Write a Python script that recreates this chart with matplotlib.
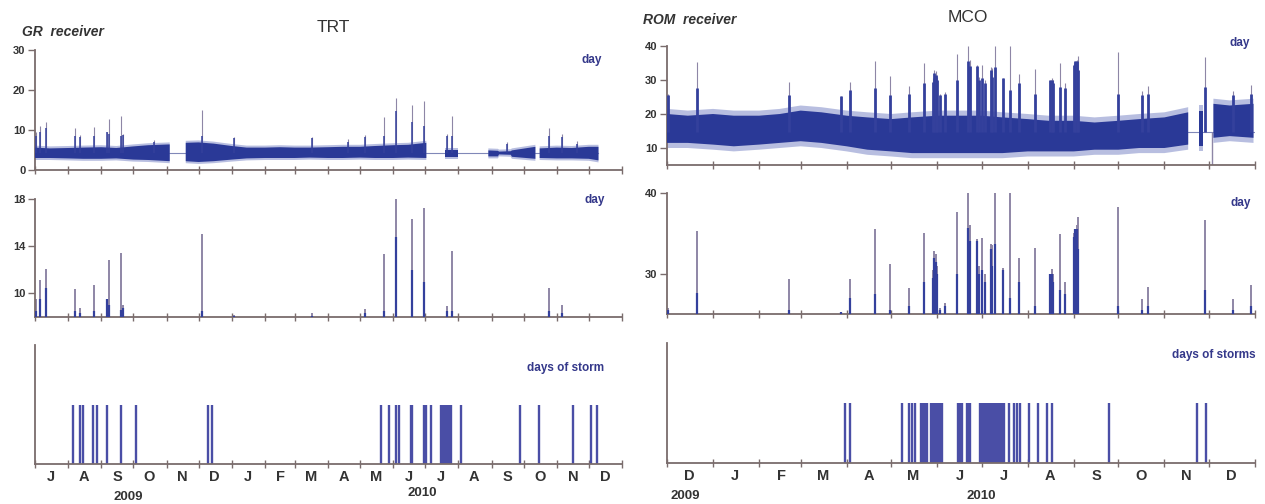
import numpy as np
import pandas as pd
import matplotlib
matplotlib.use("Agg")
import matplotlib.pyplot as plt
import matplotlib.dates as mdates
from matplotlib.ticker import FuncFormatter, NullFormatter

plt.rcParams['font.family'] = ['Liberation Sans', 'DejaVu Sans']

# ---------------- TRT (GR receiver) ----------------
trt_band_dates = ['2009-07-01', '2009-07-15', '2009-08-01', '2009-08-15', '2009-09-01',
                  '2009-09-15', '2009-10-01', '2009-10-15', '2009-11-04', '2009-11-05',
                  '2009-11-18', '2009-11-19', '2009-12-01', '2009-12-15', '2010-01-01',
                  '2010-01-15', '2010-02-01', '2010-02-15', '2010-03-01', '2010-03-15',
                  '2010-04-01', '2010-04-15', '2010-05-01', '2010-05-15', '2010-06-01',
                  '2010-06-15', '2010-07-02', '2010-07-03', '2010-07-18', '2010-07-19',
                  '2010-08-01', '2010-08-02', '2010-08-28', '2010-08-29', '2010-09-07',
                  '2010-09-08', '2010-09-19', '2010-09-20', '2010-10-12', '2010-10-13',
                  '2010-10-15', '2010-10-16', '2010-11-01', '2010-11-15', '2010-12-01',
                  '2010-12-10']
trt_band_lo = [3.0, 3.0, 2.9, 2.8, 2.8, 2.9, 2.6, 2.5, 2.2, np.nan,
               np.nan, 2.2, 2.0, 2.2, 2.6, 2.9, 3.0, 3.0, 3.0, 3.1,
               3.0, 3.0, 3.1, 3.0, 3.0, 3.1, 3.0, np.nan, np.nan, 3.3,
               3.3, np.nan, np.nan, 3.4, 3.4, 3.9, 3.8, 3.3, 2.8, np.nan,
               np.nan, 3.0, 2.9, 2.9, 2.8, 2.4]
trt_band_hi = [5.6, 5.4, 5.5, 5.6, 5.7, 5.5, 5.9, 6.2, 6.4, np.nan,
               np.nan, 6.8, 6.9, 6.6, 6.0, 5.6, 5.6, 5.7, 5.6, 5.6,
               5.7, 5.8, 5.8, 6.0, 6.2, 6.3, 6.8, np.nan, np.nan, 5.0,
               5.0, np.nan, np.nan, 4.9, 4.8, 4.6, 4.7, 4.9, 5.8, np.nan,
               np.nan, 5.4, 5.6, 5.5, 5.8, 5.8]
trt_gap_level = 4.3

trt_peak_dates = ['2009-07-02', '2009-07-06', '2009-07-11', '2009-08-07', '2009-08-12',
                  '2009-08-25', '2009-09-06', '2009-09-08', '2009-09-19', '2009-09-21',
                  '2009-12-04', '2010-01-03', '2010-03-17', '2010-05-06', '2010-05-23',
                  '2010-06-04', '2010-06-19', '2010-06-30', '2010-07-21', '2010-07-26',
                  '2010-10-25', '2010-11-06', '2009-10-20', '2010-04-20', '2010-09-15',
                  '2010-11-20']
trt_peak_max = [9.5, 11.1, 12.1, 10.4, 8.8, 10.7, 9.5, 12.8, 13.4, 9.0,
                15.0, 8.2, 8.3, 8.7, 13.3, 18.0, 16.3, 17.2, 8.9, 13.6,
                10.5, 9.0, 7.5, 7.8, 7.0, 7.2]
trt_peak_core = [8.5, 9.5, 10.5, 8.5, 8.3, 8.5, 9.5, 9.0, 8.6, 8.8,
                 8.5, 8.1, 8.1, 8.3, 8.5, 14.8, 12.0, 11.0, 8.5, 8.5,
                 8.5, 8.3, 7.0, 7.0, 6.5, 6.5]

trt_storms = [('2009-08-06', '2009-08-06'), ('2009-08-12', '2009-08-12'), ('2009-08-15', '2009-08-15'),
              ('2009-08-24', '2009-08-24'), ('2009-08-28', '2009-08-28'), ('2009-09-06', '2009-09-06'),
              ('2009-09-19', '2009-09-19'), ('2009-10-03', '2009-10-03'), ('2009-12-10', '2009-12-10'),
              ('2009-12-14', '2009-12-14'), ('2010-05-21', '2010-05-21'), ('2010-05-28', '2010-05-28'),
              ('2010-06-04', '2010-06-04'), ('2010-06-06', '2010-06-06'), ('2010-06-18', '2010-06-19'),
              ('2010-06-30', '2010-06-30'), ('2010-07-02', '2010-07-02'), ('2010-07-06', '2010-07-06'),
              ('2010-07-16', '2010-07-25'), ('2010-08-03', '2010-08-03'), ('2010-09-28', '2010-09-28'),
              ('2010-10-15', '2010-10-15'), ('2010-11-16', '2010-11-16'), ('2010-12-03', '2010-12-03'),
              ('2010-12-09', '2010-12-09')]

# ---------------- MCO (ROM receiver) ----------------
mco_band_dates = ['2009-12-01', '2009-12-15', '2010-01-01', '2010-01-15', '2010-02-01',
                  '2010-02-15', '2010-03-01', '2010-03-15', '2010-04-01', '2010-04-15',
                  '2010-05-01', '2010-05-15', '2010-06-01', '2010-06-15', '2010-07-01',
                  '2010-07-15', '2010-08-01', '2010-08-15', '2010-09-01', '2010-09-15',
                  '2010-10-01', '2010-10-15', '2010-11-01', '2010-11-17', '2010-11-18',
                  '2010-11-23', '2010-11-24', '2010-11-27', '2010-11-28', '2010-12-03',
                  '2010-12-04', '2010-12-15', '2010-12-31']
mco_band_lo = [11.5, 11.5, 11.0, 10.5, 11.0, 11.5, 12.0, 11.5, 10.5, 9.5,
               9.0, 8.5, 8.5, 8.5, 8.5, 8.5, 9.0, 9.0, 9.0, 9.5,
               9.5, 10.0, 10.0, 11.0, np.nan, np.nan, 10.5, 10.5, np.nan, np.nan,
               13.0, 13.5, 13.0]
mco_band_hi = [20.0, 19.5, 20.0, 19.5, 19.5, 20.0, 21.0, 20.5, 19.5, 19.0,
               18.5, 19.0, 19.5, 19.5, 19.5, 19.0, 18.5, 18.0, 18.0, 17.5,
               18.0, 18.5, 19.0, 20.5, np.nan, np.nan, 21.0, 21.0, np.nan, np.nan,
               23.0, 22.5, 23.0]
mco_gap_level = 14.8
mco_dropout_date = '2010-12-03'

mco_peak_dates = ['2009-12-02', '2009-12-21', '2010-02-21', '2010-03-28', '2010-04-03',
                  '2010-04-20', '2010-04-30', '2010-05-13', '2010-05-23', '2010-05-29',
                  '2010-05-30', '2010-05-31', '2010-06-01', '2010-06-03', '2010-06-06',
                  '2010-06-14', '2010-06-22', '2010-06-23', '2010-06-28', '2010-06-29',
                  '2010-07-01', '2010-07-03', '2010-07-07', '2010-07-08', '2010-07-10',
                  '2010-07-15', '2010-07-20', '2010-07-26', '2010-08-06', '2010-08-16',
                  '2010-08-17', '2010-08-18', '2010-08-23', '2010-08-26', '2010-09-01',
                  '2010-09-02', '2010-09-03', '2010-09-04', '2010-10-01', '2010-10-17',
                  '2010-10-21', '2010-11-28', '2010-12-17', '2010-12-29']
mco_peak_max = [25.8, 35.3, 29.3, 25.3, 29.4, 35.5, 31.2, 28.2, 35.1, 30.5,
                32.8, 32.5, 31.0, 25.8, 26.4, 37.6, 40.0, 36.0, 34.3, 31.0,
                34.4, 30.0, 33.7, 33.5, 40.0, 30.7, 40.0, 31.9, 33.2, 30.0,
                30.6, 30.0, 34.9, 29.0, 35.0, 35.5, 36.0, 37.0, 38.3, 26.8,
                28.3, 36.7, 26.9, 28.6]
mco_peak_core = [25.5, 27.6, 25.5, 25.2, 27.0, 27.5, 25.5, 26.0, 29.0, 29.5,
                 32.0, 31.5, 30.0, 25.5, 26.0, 30.0, 35.7, 34.0, 34.0, 30.0,
                 30.5, 29.0, 33.0, 31.0, 33.7, 30.5, 27.0, 29.0, 26.0, 30.0,
                 30.0, 29.0, 28.0, 27.5, 34.5, 35.5, 35.5, 33.0, 26.0, 25.5,
                 26.0, 28.0, 25.5, 26.0]

mco_storms = [('2010-03-31', '2010-03-31'), ('2010-04-03', '2010-04-03'), ('2010-05-08', '2010-05-08'),
              ('2010-05-13', '2010-05-13'), ('2010-05-15', '2010-05-15'), ('2010-05-17', '2010-05-17'),
              ('2010-05-21', '2010-05-25'), ('2010-05-28', '2010-06-04'), ('2010-06-15', '2010-06-18'),
              ('2010-06-21', '2010-06-23'), ('2010-06-30', '2010-07-16'), ('2010-07-19', '2010-07-19'),
              ('2010-07-23', '2010-07-23'), ('2010-07-25', '2010-07-25'), ('2010-07-27', '2010-07-27'),
              ('2010-08-02', '2010-08-02'), ('2010-08-08', '2010-08-08'), ('2010-08-14', '2010-08-14'),
              ('2010-08-17', '2010-08-17'), ('2010-09-25', '2010-09-25'), ('2010-11-23', '2010-11-23'),
              ('2010-11-29', '2010-11-29')]

W, H = 1265, 504
BAND = '#2a3997'
HALO = '#7f8ac8'
SPIKE = '#8e86a6'
CORE = '#34409c'
STORM = '#4a4ea6'
AXC = '#7a6c6c'
TXT = '#333333'
LABC = '#34388a'

fig = plt.figure(figsize=(W / 100, H / 100), dpi=100)


def add_axes(x0, y0, x1, y1):
    # pixel box (left, top, right, bottom) -> axes
    return fig.add_axes([x0 / W, 1 - y1 / H, (x1 - x0) / W, (y1 - y0) / H])


def ftext(x, y, s, **kw):
    fig.text(x / W, 1 - y / H, s, **kw)


def style(ax, start, end, ylim, yticks, month_labels=False):
    ax.set_xlim(pd.Timestamp(start), pd.Timestamp(end))
    ax.set_ylim(*ylim)
    for s in ['top', 'right']:
        ax.spines[s].set_visible(False)
    for s in ['left', 'bottom']:
        ax.spines[s].set_color(AXC)
        ax.spines[s].set_linewidth(1.3)
    ax.xaxis.set_major_locator(mdates.MonthLocator())
    ax.xaxis.set_major_formatter(NullFormatter())
    ax.xaxis.set_minor_locator(mdates.MonthLocator(bymonthday=16))
    if month_labels:
        ax.xaxis.set_minor_formatter(FuncFormatter(lambda v, p: mdates.num2date(v).strftime('%b')[0]))
    else:
        ax.xaxis.set_minor_formatter(NullFormatter())
    ax.tick_params(axis='x', which='major', direction='inout', length=6, width=1, color=AXC)
    ax.tick_params(axis='x', which='minor', length=0, pad=4, labelsize=10.5, labelcolor=TXT)
    for lab in ax.get_xticklabels(minor=True):
        lab.set_fontweight('bold')
    ax.set_yticks(yticks)
    ax.tick_params(axis='y', direction='out', length=5, width=1, color=AXC,
                   labelsize=8, labelcolor=TXT, pad=2)
    for lab in ax.get_yticklabels():
        lab.set_fontweight('bold')
    ax.patch.set_alpha(0)


def expand(periods):
    days = []
    for a, b in periods:
        days.extend(pd.date_range(a, b, freq='D'))
    return days


def panel_top(ax, bd, lo, hi, gap, pdates, pmax, pcore, halo, core_lw):
    bd = pd.to_datetime(bd)
    pd_ = pd.to_datetime(pdates)
    lo = np.array(lo)
    hi = np.array(hi)
    ax.plot([bd[0], bd[-1]], [gap, gap], color='#8088b8', lw=0.8, zorder=1)
    ax.vlines(pd_, gap, pmax, color=SPIKE, lw=0.8, zorder=2)
    ax.fill_between(bd, lo - halo, hi + halo, color=HALO, alpha=0.55, lw=0, zorder=2.5)
    ax.fill_between(bd, lo, hi, color=BAND, lw=0, zorder=3)
    ax.vlines(pd_, gap, pcore, color=CORE, lw=core_lw, zorder=4)


def panel_mid(ax, base, pdates, pmax, pcore):
    pd_ = pd.to_datetime(pdates)
    ax.vlines(pd_, base, pmax, color=SPIKE, lw=1.4, zorder=2)
    ax.vlines(pd_, base, pcore, color=CORE, lw=1.6, zorder=3)


def panel_storm(ax, periods):
    ax.vlines(expand(periods), 0, 1, color=STORM, lw=1.7)


# ---- left column (TRT) ----
L0, L1 = 35, 622
ax = add_axes(L0, 50, L1, 170)
style(ax, '2009-07-01', '2011-01-01', (0, 30), [0, 10, 20, 30])
panel_top(ax, trt_band_dates, trt_band_lo, trt_band_hi, trt_gap_level,
          trt_peak_dates, trt_peak_max, trt_peak_core, 0.5, 1.1)

ax = add_axes(L0, 199, L1, 317)
style(ax, '2009-07-01', '2011-01-01', (8, 18), [10, 14, 18])
panel_mid(ax, 8, trt_peak_dates, trt_peak_max, trt_peak_core)

ax = add_axes(L0, 345, L1, 464)
style(ax, '2009-07-01', '2011-01-01', (0, 2), [], month_labels=True)
ax.tick_params(axis='y', length=0)
panel_storm(ax, trt_storms)

# ---- right column (MCO) ----
R0, R1 = 667, 1255
ax = add_axes(R0, 46, R1, 165)
style(ax, '2009-12-01', '2011-01-01', (5, 40), [10, 20, 30, 40])
panel_top(ax, mco_band_dates, mco_band_lo, mco_band_hi, mco_gap_level,
          mco_peak_dates, mco_peak_max, mco_peak_core, 1.5, 2.0)
ax.vlines(pd.Timestamp(mco_dropout_date), 5, mco_gap_level, color=SPIKE, lw=1.0, zorder=2)

ax = add_axes(R0, 193, R1, 314)
style(ax, '2009-12-01', '2011-01-01', (25, 40), [30, 40])
panel_mid(ax, 25, mco_peak_dates, mco_peak_max, mco_peak_core)

ax = add_axes(R0, 343, R1, 463)
style(ax, '2009-12-01', '2011-01-01', (0, 2), [], month_labels=True)
ax.tick_params(axis='y', length=0)
panel_storm(ax, mco_storms)

# ---- texts ----
ftext(22, 32, 'GR  receiver', fontsize=10, fontweight='bold', style='italic', color=TXT, va='center')
ftext(333, 28, 'TRT', fontsize=12.5, color=TXT, ha='center', va='center')
ftext(643, 20, 'ROM  receiver', fontsize=10, fontweight='bold', style='italic', color=TXT, va='center')
ftext(968, 17, 'MCO', fontsize=12.5, color=TXT, ha='center', va='center')
ftext(592, 60, 'day', fontsize=8.5, fontweight='bold', color=LABC, ha='center', va='center')
ftext(595, 200, 'day', fontsize=8.5, fontweight='bold', color=LABC, ha='center', va='center')
ftext(566, 368, 'days of storm', fontsize=8.5, fontweight='bold', color=LABC, ha='center', va='center')
ftext(1240, 43, 'day', fontsize=8.5, fontweight='bold', color=LABC, ha='center', va='center')
ftext(1241, 203, 'day', fontsize=8.5, fontweight='bold', color=LABC, ha='center', va='center')
ftext(1214, 355, 'days of storms', fontsize=8.5, fontweight='bold', color=LABC, ha='center', va='center')
ftext(128, 497, '2009', fontsize=9.5, fontweight='bold', color=TXT, ha='center', va='center')
ftext(422, 493, '2010', fontsize=9.5, fontweight='bold', color=TXT, ha='center', va='center')
ftext(685, 496, '2009', fontsize=9.5, fontweight='bold', color=TXT, ha='center', va='center')
ftext(981, 496, '2010', fontsize=9.5, fontweight='bold', color=TXT, ha='center', va='center')

fig.savefig('out.png', dpi=100)
